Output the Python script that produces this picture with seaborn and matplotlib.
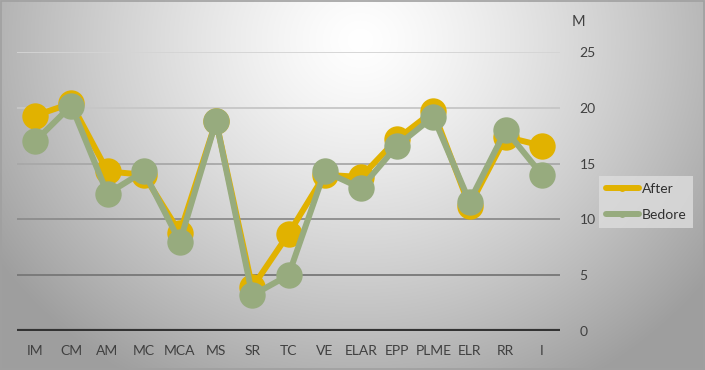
import numpy as np
import pandas as pd
import matplotlib
matplotlib.use("Agg")
import matplotlib.pyplot as plt
import seaborn as sns
from matplotlib.lines import Line2D

categories = ["IM", "CM", "AM", "MC", "MCA", "MS", "SR", "TC", "VE", "ELAR", "EPP", "PLME", "ELR", "RR", "I"]
after = [19.3, 20.4, 14.3, 14.0, 8.8, 18.8, 3.9, 8.7, 14.0, 13.8, 17.2, 19.7, 11.2, 17.4, 16.6]
bedore = [17.0, 20.2, 12.3, 14.3, 8.0, 18.8, 3.2, 5.0, 14.3, 12.8, 16.6, 19.2, 11.6, 18.0, 14.0]
yticks = [0, 5, 10, 15, 20, 25]
series_names = ["After", "Bedore"]
colors = {"After": "#E1B200", "Bedore": "#97AB7E"}

sns.set_theme(style="white")
plt.rcParams["font.family"] = ["Lato", "DejaVu Sans"]

fig = plt.figure(figsize=(7.05, 3.7), dpi=100)

# background radial gradient
bg = fig.add_axes([0, 0, 1, 1], zorder=0)
W, H = 705, 370
yy, xx = np.mgrid[0:H, 0:W]
cx, cy = 360, 40
d = np.sqrt(((xx - cx) / 420.0) ** 2 + ((yy - cy) / 380.0) ** 2)
val = np.clip(1.0 - 0.36 * d ** 1.3, 0.62, 1.0)
img = np.dstack([val, val, val])
bg.imshow(img, aspect="auto", extent=[0, 1, 0, 1], origin="upper")
bg.set_xlim(0, 1); bg.set_ylim(0, 1)
bg.axis("off")
bg.add_patch(plt.Rectangle((0.001, 0.002), 0.997, 0.995, fill=False, edgecolor="#a0a0a0", lw=1.2, transform=bg.transAxes))

ax = fig.add_axes([17 / W, 39 / H, 543 / W, 279 / H], zorder=1)
ax.patch.set_alpha(0)

df = pd.DataFrame({
    "cat": categories * 2,
    "value": after + bedore,
    "series": ["After"] * len(categories) + ["Bedore"] * len(categories),
})

grid_cols = {5: "#777777", 10: "#8c8c8c", 15: "#a8a8a8", 20: "#c6c6c6", 25: "#d4d4d4"}
for v, c in grid_cols.items():
    ax.axhline(v, color=c, lw=1.3, zorder=0)
ax.axhline(0, color="#333333", lw=3.0, zorder=0)

sns.lineplot(data=df, x="cat", y="value", hue="series", palette=colors, sort=False,
             marker="o", markersize=19, markeredgewidth=0, linewidth=4.3, ax=ax, legend=False, zorder=3)

ax.set_xlim(-0.5, 14.5)
ax.set_ylim(0, 25)
ax.yaxis.tick_right()
ax.set_yticks(yticks)
ax.set_yticklabels([str(t) for t in yticks], fontsize=10, color="#404040")
ax.tick_params(axis="y", length=0, pad=14)
ax.tick_params(axis="x", length=0, pad=10, labelsize=10, labelcolor="#404040")
ax.set_xlabel(""); ax.set_ylabel("")
for s in ax.spines.values():
    s.set_visible(False)

fig.text(578 / W, 1 - 22 / H, "M", fontsize=10.5, color="#404040", ha="center", va="center")

handles = [Line2D([0], [0], color=colors[n], lw=4.3, marker="o", markersize=5, markeredgewidth=0) for n in series_names]
leg = fig.legend(handles, series_names, loc="center", bbox_to_anchor=(646 / W, 1 - 202 / H),
                 frameon=True, fontsize=10, handlelength=2.4, handletextpad=0.2, labelspacing=1.0,
                 borderpad=0.5, fancybox=False)
leg.get_frame().set_facecolor("#dddddd")
leg.get_frame().set_edgecolor("none")
leg.get_frame().set_alpha(0.8)
for t in leg.get_texts():
    t.set_color("#303030")

fig.savefig("out.png", dpi=100)
